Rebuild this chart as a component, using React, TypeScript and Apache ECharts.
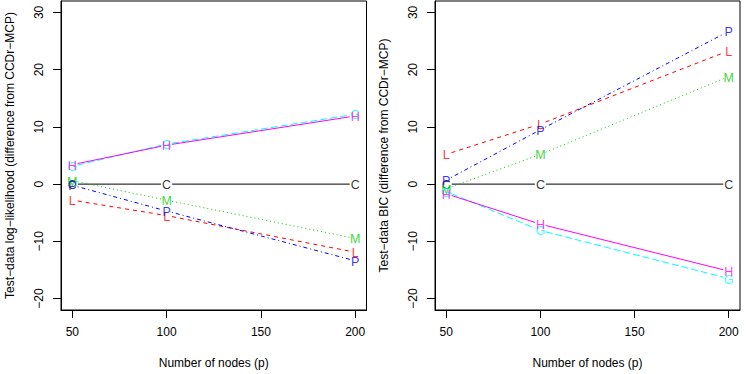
import React, { useEffect, useRef } from "react";
import * as echarts from "echarts";

const xValues = [50, 100, 200];
const xTicks = [50, 100, 150, 200];
const yTicks = [-20, -10, 0, 10, 20, 30];

const seriesNames = ["C", "L", "M", "P", "G", "H"];
const seriesColors = ["#000000", "#FF0000", "#00CD00", "#0000FF", "#00FFFF", "#FF00FF"];
const seriesDash: (number[] | null)[] = [null, [4, 4], [1, 3], [1, 3, 4, 3], [7, 3], null];

// Test-data log-likelihood (difference from CCDr-MCP)
const loglikC = [0, 0, 0];
const loglikL = [-2.8, -5.5, -11.9];
const loglikM = [0.6, -2.8, -9.5];
const loglikP = [-0.2, -4.7, -13.4];
const loglikG = [3.1, 7.0, 12.2];
const loglikH = [3.4, 6.8, 11.9];

// Test-data BIC (difference from CCDr-MCP)
const bicC = [0, 0, 0];
const bicL = [5.2, 10.5, 23.3];
const bicM = [-0.8, 5.2, 18.8];
const bicP = [0.7, 9.5, 26.7];
const bicG = [-1.3, -8.1, -16.5];
const bicH = [-1.7, -7.0, -15.2];

const leftData = [loglikC, loglikL, loglikM, loglikP, loglikG, loglikH];
const rightData = [bicC, bicL, bicM, bicP, bicG, bicH];

const FONT = "'Liberation Sans', Arial, Helvetica, sans-serif";
const GAP = 5.5;

const fmt = (v: number) => (v < 0 ? "\u2212" + Math.abs(v) : String(v));

function buildSeries(data: number[][], idx: number) {
  const out: any[] = [];
  data.forEach((ys, s) => {
    const segs: number[][] = [];
    for (let i = 0; i < xValues.length - 1; i++) {
      segs.push([xValues[i], ys[i], xValues[i + 1], ys[i + 1]]);
    }
    const color = seriesColors[s];
    const dash = seriesDash[s];
    out.push({
      type: "custom",
      xAxisIndex: idx,
      yAxisIndex: idx,
      data: segs,
      encode: { x: [0, 2], y: [1, 3] },
      silent: true,
      z: 2 + s,
      renderItem: (params: any, api: any) => {
        const a = api.coord([api.value(0), api.value(1)]);
        const b = api.coord([api.value(2), api.value(3)]);
        const dx = b[0] - a[0];
        const dy = b[1] - a[1];
        const len = Math.sqrt(dx * dx + dy * dy);
        if (len <= 2 * GAP) return null;
        const ux = dx / len;
        const uy = dy / len;
        return {
          type: "line",
          shape: {
            x1: a[0] + ux * GAP,
            y1: a[1] + uy * GAP,
            x2: b[0] - ux * GAP,
            y2: b[1] - uy * GAP,
          },
          style: {
            stroke: color,
            lineWidth: 1,
            lineDash: dash || undefined,
            fill: null,
          },
        };
      },
    });
    out.push({
      type: "scatter",
      xAxisIndex: idx,
      yAxisIndex: idx,
      data: xValues.map((x, i) => [x, ys[i]]),
      symbolSize: 1,
      itemStyle: { color: "rgba(0,0,0,0)" },
      silent: true,
      z: 2 + s,
      label: {
        show: true,
        position: "inside",
        offset: [0, 1],
        formatter: seriesNames[s],
        color,
        fontSize: 12.5,
        fontFamily: FONT,
      },
    });
  });
  return out;
}

function makeXAxis(idx: number) {
  return {
    type: "value",
    gridIndex: idx,
    min: 44,
    max: 206,
    axisLine: { show: true, onZero: false, lineStyle: { color: "#000", width: 1 } },
    axisTick: {
      show: true,
      customValues: xTicks,
      length: 8,
      lineStyle: { color: "#000", width: 1 },
    },
    axisLabel: {
      customValues: xTicks,
      formatter: fmt,
      margin: 16,
      color: "#000",
      fontSize: 12,
      fontFamily: FONT,
    },
    splitLine: { show: false },
    name: "Number of nodes (p)",
    nameLocation: "middle",
    nameGap: 47,
    nameTextStyle: { color: "#000", fontSize: 12, fontFamily: FONT },
  };
}

function makeYAxis(idx: number, name: string) {
  return {
    type: "value",
    gridIndex: idx,
    min: -22,
    max: 32,
    axisLine: { show: true, onZero: false, lineStyle: { color: "#000", width: 1 } },
    axisTick: {
      show: true,
      customValues: yTicks,
      length: 8,
      lineStyle: { color: "#000", width: 1 },
    },
    axisLabel: {
      customValues: yTicks,
      formatter: fmt,
      rotate: 90,
      margin: 16,
      color: "#000",
      fontSize: 12,
      fontFamily: FONT,
    },
    splitLine: { show: false },
    name,
    nameLocation: "middle",
    nameRotate: 90,
    nameGap: 45,
    nameTextStyle: { color: "#000", fontSize: 12, fontFamily: FONT },
  };
}

export default function App() {
  const ref = useRef<HTMLDivElement>(null);
  useEffect(() => {
    if (!ref.current) return;
    const chart = echarts.init(ref.current, null, { renderer: "svg" });
    chart.setOption({
      animation: false,
      backgroundColor: "#ffffff",
      grid: [
        { left: 61, top: 1, width: 305.5, height: 311, show: true, borderColor: "#000", borderWidth: 1, backgroundColor: "transparent" },
        { left: 435, top: 1, width: 305, height: 311, show: true, borderColor: "#000", borderWidth: 1, backgroundColor: "transparent" },
      ],
      xAxis: [makeXAxis(0), makeXAxis(1)],
      yAxis: [
        makeYAxis(0, "Test\u2212data log\u2212likelihood (difference from CCDr\u2212MCP)"),
        makeYAxis(1, "Test\u2212data BIC (difference from CCDr\u2212MCP)"),
      ],
      series: [...buildSeries(leftData, 0), ...buildSeries(rightData, 1)],
    });
    return () => chart.dispose();
  }, []);
  return (
    <div
      ref={ref}
      style={{ position: "absolute", left: 0, top: 0, width: 747, height: 374 }}
    />
  );
}
